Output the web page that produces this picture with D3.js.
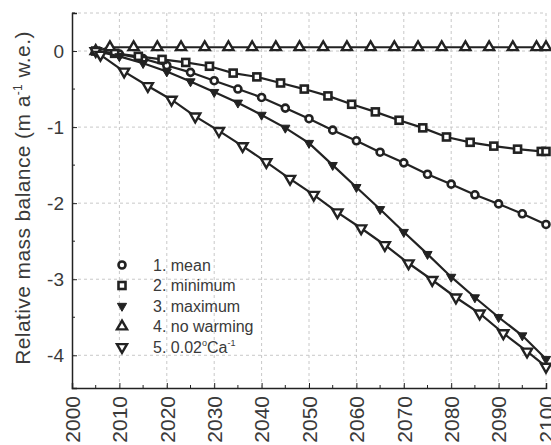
<!DOCTYPE html>
<html>
<head>
<meta charset="utf-8">
<script src="https://cdn.jsdelivr.net/npm/d3@7"></script>
<style>
  body { margin: 0; background: #fff; }
  svg { font-family: "Liberation Sans", Arial, sans-serif; }
</style>
</head>
<body>
<div id="chart"></div>
<script>
// values (year, relative mass balance)
const meanYears = [2005, 2010, 2015, 2020, 2025, 2030, 2035, 2040, 2045, 2050, 2055, 2060, 2065, 2070, 2075, 2080, 2085, 2090, 2095, 2100];
const meanVals  = [0, -0.04, -0.10, -0.19, -0.28, -0.39, -0.50, -0.61, -0.75, -0.89, -1.04, -1.18, -1.33, -1.47, -1.62, -1.75, -1.89, -2.01, -2.14, -2.28];

const minYears = [2005, 2009, 2014, 2019, 2024, 2029, 2034, 2039, 2044, 2049, 2054, 2059, 2064, 2069, 2074, 2079, 2084, 2089, 2094, 2099, 2100];
const minVals  = [0, -0.03, -0.07, -0.11, -0.15, -0.20, -0.29, -0.34, -0.42, -0.50, -0.59, -0.70, -0.80, -0.91, -1.01, -1.13, -1.20, -1.25, -1.29, -1.32, -1.32];

const maxYears = [2005, 2010, 2015, 2020, 2025, 2030, 2035, 2040, 2045, 2050, 2055, 2060, 2065, 2070, 2075, 2080, 2085, 2090, 2095, 2100];
const maxVals  = [0, -0.07, -0.16, -0.27, -0.40, -0.54, -0.68, -0.84, -1.01, -1.21, -1.50, -1.79, -2.08, -2.38, -2.67, -2.97, -3.24, -3.50, -3.74, -4.05];

const noWarmYears = [2005, 2008, 2013, 2018, 2023, 2028, 2033, 2038, 2043, 2048, 2053, 2058, 2063, 2068, 2073, 2078, 2083, 2088, 2093, 2098, 2100];
const noWarmVals  = [0, 0.05, 0.05, 0.05, 0.05, 0.05, 0.05, 0.05, 0.05, 0.05, 0.05, 0.05, 0.05, 0.05, 0.05, 0.05, 0.05, 0.05, 0.05, 0.05, 0.05];

const fixedYears = [2005, 2006, 2011, 2016, 2021, 2026, 2031, 2036, 2041, 2046, 2051, 2056, 2061, 2066, 2071, 2076, 2081, 2086, 2091, 2096, 2100];
const fixedVals  = [0, -0.05, -0.27, -0.46, -0.64, -0.86, -1.05, -1.25, -1.46, -1.68, -1.89, -2.12, -2.33, -2.55, -2.79, -3.01, -3.24, -3.45, -3.71, -3.95, -4.15];

const xTicks = [2000, 2010, 2020, 2030, 2040, 2050, 2060, 2070, 2080, 2090, 2100];
const xMinor = [2005, 2015, 2025, 2035, 2045, 2055, 2065, 2075, 2085, 2095];
const yTicks = [0, -1, -2, -3, -4];
const yMinor = [0.5, -0.5, -1.5, -2.5, -3.5];

const series = [
  { label: "1. mean",       years: meanYears,   vals: meanVals,   marker: "circle" },
  { label: "2. minimum",    years: minYears,    vals: minVals,    marker: "square" },
  { label: "3. maximum",    years: maxYears,    vals: maxVals,    marker: "down-solid" },
  { label: "4. no warming", years: noWarmYears, vals: noWarmVals, marker: "up" },
  { label: "5. 0.02",       years: fixedYears,  vals: fixedVals,  marker: "down" }
];

const W = 551, H = 445;
const margin = { top: 13, right: 5, bottom: 57, left: 72 };
const width = 546 - margin.left;
const height = 388 - margin.top;

const x = d3.scaleLinear().domain([2000, 2100]).range([0, width]);
const y = d3.scaleLinear().domain([-4.43, 0.5]).range([height, 0]);

const ink = "#222";
const textCol = "#3a3a3a";

const svg = d3.select("#chart").append("svg")
  .attr("width", W)
  .attr("height", H);

const g = svg.append("g")
  .attr("transform", "translate(" + margin.left + "," + margin.top + ")");

// dashed grid
const grid = g.append("g").attr("stroke", "#c8c8c8").attr("stroke-dasharray", "3,3").attr("stroke-width", 1);
grid.selectAll(".gx").data(xTicks.slice(1)).join("line")
  .attr("x1", d => x(d)).attr("x2", d => x(d))
  .attr("y1", 0).attr("y2", height);
grid.selectAll(".gy").data(yTicks.concat([0.5])).join("line")
  .attr("x1", 0).attr("x2", width)
  .attr("y1", d => y(d)).attr("y2", d => y(d));

// axes with inward ticks
const xAxis = g.append("g")
  .attr("transform", "translate(0," + height + ")")
  .call(d3.axisBottom(x).tickValues(xTicks).tickSize(-5).tickPadding(6).tickFormat(d3.format("d")));
xAxis.append("g").selectAll("line").data(xMinor).join("line")
  .attr("x1", d => x(d)).attr("x2", d => x(d))
  .attr("y1", 0).attr("y2", -3).attr("stroke", ink);
xAxis.selectAll(".tick text")
  .attr("transform", "rotate(-90)")
  .attr("x", -8).attr("y", 0).attr("dy", "0.35em")
  .style("text-anchor", "end")
  .style("font-size", "21px");

const yAxis = g.append("g")
  .call(d3.axisLeft(y).tickValues(yTicks).tickSize(-5).tickPadding(8).tickFormat(d => d === 0 ? "0" : "-" + Math.abs(d)));
yAxis.append("g").selectAll("line").data(yMinor).join("line")
  .attr("x1", 0).attr("x2", 3)
  .attr("y1", d => y(d)).attr("y2", d => y(d)).attr("stroke", ink);
yAxis.selectAll(".tick text").style("font-size", "19px");

g.selectAll(".domain").attr("stroke", ink).attr("stroke-width", 1.5);
g.selectAll(".tick line").attr("stroke", ink);
g.selectAll(".tick text").attr("fill", textCol);

// y label
svg.append("text")
  .attr("transform", "translate(30,198) rotate(-90)")
  .style("text-anchor", "middle")
  .style("font-size", "21px")
  .style("letter-spacing", "0.4px")
  .attr("fill", textCol)
  .call(t => {
    t.append("tspan").text("Relative mass balance (m a");
    t.append("tspan").attr("dy", -8).style("font-size", "12px").text("-1");
    t.append("tspan").attr("dy", 8).text(" w.e.)");
  });

// markers
function drawMarker(sel, type, size) {
  const s = size;
  if (type === "circle") {
    sel.append("circle").attr("r", s * 0.5).attr("fill", "#fff").attr("stroke", ink).attr("stroke-width", 2.6);
  } else if (type === "square") {
    sel.append("rect").attr("x", -s / 2).attr("y", -s / 2).attr("width", s).attr("height", s)
      .attr("fill", "#fff").attr("stroke", ink).attr("stroke-width", 2.6);
  } else if (type === "up") {
    sel.append("path").attr("d", d3.symbol(d3.symbolTriangle, s * s * 0.9)())
      .attr("fill", "#fff").attr("stroke", ink).attr("stroke-width", 2.4);
  } else if (type === "down") {
    sel.append("path").attr("d", d3.symbol(d3.symbolTriangle, s * s * 0.9)()).attr("transform", "rotate(180)")
      .attr("fill", "#fff").attr("stroke", ink).attr("stroke-width", 2.4);
  } else {
    sel.append("path").attr("d", d3.symbol(d3.symbolTriangle, s * s * 0.75)()).attr("transform", "rotate(180)")
      .attr("fill", ink).attr("stroke", ink).attr("stroke-width", 1);
  }
}

const line = d3.line().x(d => x(d[0])).y(d => y(d[1]));

series.forEach(s => {
  const pts = s.years.map((yr, i) => [yr, s.vals[i]]);
  g.append("path").datum(pts)
    .attr("d", line)
    .attr("fill", "none")
    .attr("stroke", ink)
    .attr("stroke-width", 2.2);
  g.append("g").selectAll("g").data(pts).join("g")
    .attr("transform", d => "translate(" + x(d[0]) + "," + y(d[1]) + ")")
    .each(function () { drawMarker(d3.select(this), s.marker, 7); });
});

// legend
const legend = svg.append("g").attr("transform", "translate(122,265)");
series.forEach((s, i) => {
  const row = legend.append("g").attr("transform", "translate(0," + (i * 20.5) + ")");
  drawMarker(row, s.marker, 7);
  const t = row.append("text").attr("x", 31).attr("dy", "0.35em")
    .style("font-size", "16px").attr("fill", textCol).text(s.label);
  if (i === 4) {
    t.append("tspan").attr("dy", -7).style("font-size", "9px").text("o");
    t.append("tspan").attr("dy", 7).text("Ca");
    t.append("tspan").attr("dy", -7).style("font-size", "9px").text("-1");
  }
});
</script>
</body>
</html>
